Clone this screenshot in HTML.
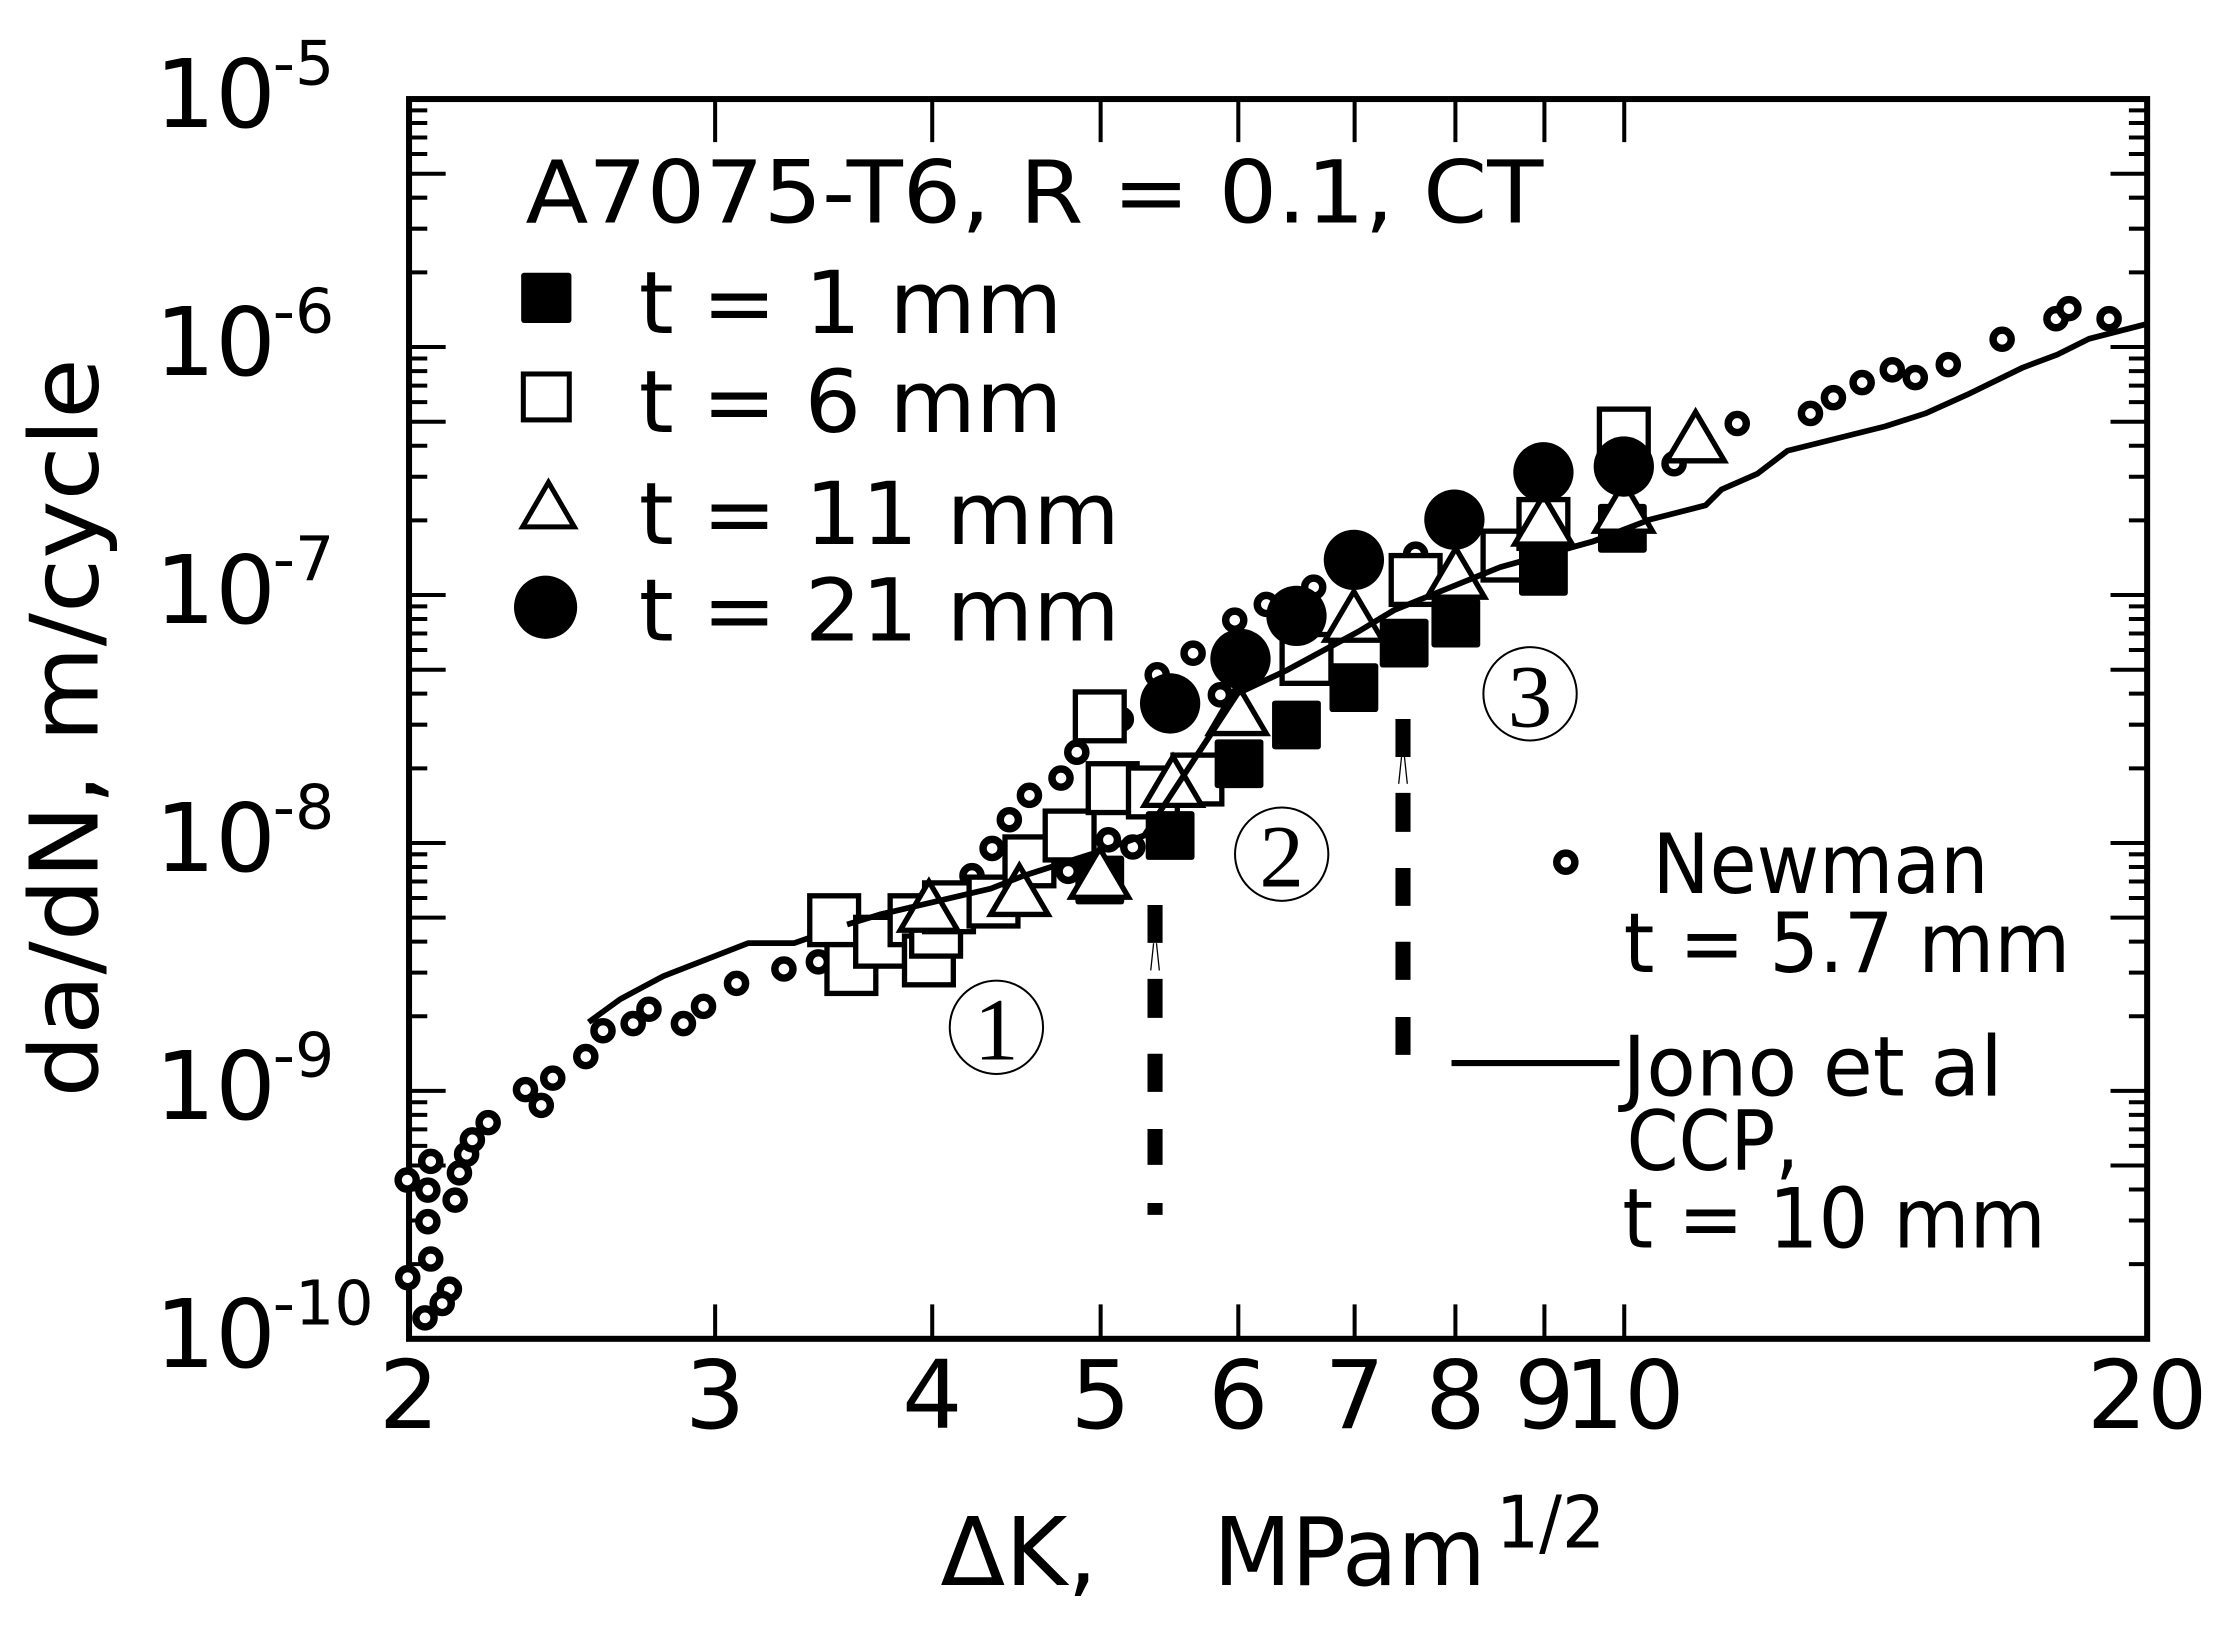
<!DOCTYPE html>
<html><head><meta charset="utf-8"><style>
html,body{margin:0;padding:0;background:#fff;}
svg{display:block;}
text{font-family:"DejaVu Sans","Liberation Sans",sans-serif;fill:#000;}
.serif{font-family:"Liberation Serif","DejaVu Serif",serif;}
</style></head><body>
<svg width="2234" height="1638" viewBox="0 0 1556 1141" preserveAspectRatio="none" xmlns="http://www.w3.org/2000/svg">
<rect width="1556" height="1141" fill="#fff"/>
<!-- axes box -->
<rect x="284.9" y="69" width="1210.6" height="863.6" fill="none" stroke="#000" stroke-width="4.2"/>
<!-- y ticks -->
<g stroke="#000" stroke-width="2.8">
<path id="yt" d="M284.9 880.6h12.7M284.9 850.2h12.7M284.9 828.6h12.7M284.9 811.9h25.5M284.9 798.2h12.7M284.9 786.7h12.7M284.9 776.6h12.7M284.9 767.8h12.7M284.9 759.9h25.5
M284.9 707.9h12.7M284.9 677.5h12.7M284.9 655.9h12.7M284.9 639.2h25.5M284.9 625.5h12.7M284.9 614h12.7M284.9 603.9h12.7M284.9 595.1h12.7M284.9 587.2h25.5
M284.9 535.2h12.7M284.9 504.8h12.7M284.9 483.2h12.7M284.9 466.5h25.5M284.9 452.8h12.7M284.9 441.3h12.7M284.9 431.2h12.7M284.9 422.4h12.7M284.9 414.5h25.5
M284.9 362.5h12.7M284.9 332.1h12.7M284.9 310.5h12.7M284.9 293.8h25.5M284.9 280.1h12.7M284.9 268.6h12.7M284.9 258.5h12.7M284.9 249.7h12.7M284.9 241.7h25.5
M284.9 189.7h12.7M284.9 159.3h12.7M284.9 137.7h12.7M284.9 121h25.5M284.9 107.3h12.7M284.9 95.8h12.7M284.9 85.7h12.7M284.9 76.9h12.7"/>
<path d="M1495.5 880.6h-12.7M1495.5 850.2h-12.7M1495.5 828.6h-12.7M1495.5 811.9h-25.5M1495.5 798.2h-12.7M1495.5 786.7h-12.7M1495.5 776.6h-12.7M1495.5 767.8h-12.7M1495.5 759.9h-25.5
M1495.5 707.9h-12.7M1495.5 677.5h-12.7M1495.5 655.9h-12.7M1495.5 639.2h-25.5M1495.5 625.5h-12.7M1495.5 614h-12.7M1495.5 603.9h-12.7M1495.5 595.1h-12.7M1495.5 587.2h-25.5
M1495.5 535.2h-12.7M1495.5 504.8h-12.7M1495.5 483.2h-12.7M1495.5 466.5h-25.5M1495.5 452.8h-12.7M1495.5 441.3h-12.7M1495.5 431.2h-12.7M1495.5 422.4h-12.7M1495.5 414.5h-25.5
M1495.5 362.5h-12.7M1495.5 332.1h-12.7M1495.5 310.5h-12.7M1495.5 293.8h-25.5M1495.5 280.1h-12.7M1495.5 268.6h-12.7M1495.5 258.5h-12.7M1495.5 249.7h-12.7M1495.5 241.7h-25.5
M1495.5 189.7h-12.7M1495.5 159.3h-12.7M1495.5 137.7h-12.7M1495.5 121h-25.5M1495.5 107.3h-12.7M1495.5 95.8h-12.7M1495.5 85.7h-12.7M1495.5 76.9h-12.7"/>
<!-- x ticks -->
<path d="M498.1 932.6v-24M649.3 932.6v-24M766.6 932.6v-24M862.5 932.6v-24M943.5 932.6v-24M1013.7 932.6v-24M1075.7 932.6v-24M1131.3 932.6v-24
M498.1 69v30M649.3 69v30M766.6 69v30M862.5 69v30M943.5 69v30M1013.7 69v30M1075.7 69v30M1131.3 69v30"/>
</g>
<!-- y tick labels -->
<g font-size="66">
<text x="108" y="88.5">10</text><text x="190" y="59" font-size="43">-5</text>
<text x="108" y="261.2">10</text><text x="190" y="231.7" font-size="43">-6</text>
<text x="108" y="434">10</text><text x="190" y="404.5" font-size="43">-7</text>
<text x="108" y="606.7">10</text><text x="190" y="577.2" font-size="43">-8</text>
<text x="108" y="779.4">10</text><text x="190" y="749.9" font-size="43">-9</text>
<text x="108" y="952.1">10</text><text x="190" y="922.6" font-size="43">-10</text>
</g>
<!-- x tick labels -->
<g font-size="66" text-anchor="middle">
<text x="284.9" y="994.6">2</text><text x="498.1" y="994.6">3</text><text x="649.3" y="994.6">4</text>
<text x="766.6" y="994.6">5</text><text x="862.5" y="994.6">6</text><text x="943.5" y="994.6">7</text>
<text x="1013.7" y="994.6">8</text><text x="1075.7" y="994.6">9</text><text x="1131.3" y="994.6">10</text>
<text x="1495.5" y="994.6">20</text>
</g>
<!-- axis titles -->
<text x="655" y="1104" font-size="66">ΔK,</text>
<text x="845" y="1104" font-size="66" textLength="190" lengthAdjust="spacingAndGlyphs">MPam</text>
<text x="1042" y="1078" font-size="50" textLength="76" lengthAdjust="spacingAndGlyphs">1/2</text>
<text transform="translate(68,507) rotate(-90)" text-anchor="middle" font-size="66" textLength="515" lengthAdjust="spacingAndGlyphs">da/dN, m/cycle</text>

<!-- Jono line -->
<polyline fill="none" stroke="#000" stroke-width="4" stroke-linejoin="round" points="410,712 432,696 462,680 521,657 553,657 576,649 613,637 690,619 713,610 760,595 797,582 862,483 896,467 946,440 971,425 1045,395 1110,377 1149,362 1188,352 1199,341 1224,330 1245,314 1313,297 1341,288 1370,275 1409,256 1433,247 1455,236 1494,226"/>

<!-- Newman circles -->
<g fill="#fff" stroke="#000" stroke-width="5.2">
<circle cx="283.6" cy="822" r="6.3"/><circle cx="300" cy="809" r="6.3"/><circle cx="298" cy="829" r="6.3"/><circle cx="317" cy="836" r="6.3"/><circle cx="320" cy="817" r="6.3"/><circle cx="325" cy="804" r="6.3"/><circle cx="329" cy="794" r="6.3"/><circle cx="340" cy="782" r="6.3"/><circle cx="366" cy="759" r="6.3"/><circle cx="377" cy="770" r="6.3"/><circle cx="385" cy="751" r="6.3"/><circle cx="408" cy="736" r="6.3"/><circle cx="420" cy="718" r="6.3"/><circle cx="441" cy="713" r="6.3"/><circle cx="452" cy="703" r="6.3"/><circle cx="476" cy="713" r="6.3"/><circle cx="490" cy="701" r="6.3"/><circle cx="513" cy="685" r="6.3"/><circle cx="546" cy="675" r="6.3"/><circle cx="570" cy="670" r="6.3"/><circle cx="298" cy="851" r="6.3"/><circle cx="300" cy="877" r="6.3"/><circle cx="284" cy="890" r="6.3"/><circle cx="313" cy="898" r="6.3"/><circle cx="308" cy="908" r="6.3"/><circle cx="296" cy="918" r="6.3"/>
<circle cx="677" cy="610" r="6.3"/><circle cx="691" cy="591" r="6.3"/><circle cx="703" cy="571" r="6.3"/><circle cx="717" cy="554" r="6.3"/><circle cx="739" cy="542" r="6.3"/><circle cx="750" cy="524" r="6.3"/><circle cx="781" cy="501" r="6.3"/><circle cx="744" cy="607" r="6.3"/><circle cx="772" cy="585" r="6.3"/><circle cx="789" cy="590" r="6.3"/><circle cx="806" cy="470" r="6.3"/><circle cx="831" cy="455" r="6.3"/><circle cx="850" cy="484" r="6.3"/><circle cx="860" cy="432" r="6.3"/><circle cx="882" cy="421" r="6.3"/><circle cx="915" cy="409" r="6.3"/><circle cx="986" cy="386" r="6.3"/>
<circle cx="1166" cy="323" r="6.3"/><circle cx="1210" cy="295" r="6.3"/><circle cx="1261" cy="288" r="6.3"/><circle cx="1277" cy="277" r="6.3"/><circle cx="1297" cy="266.5" r="6.3"/><circle cx="1318" cy="257.6" r="6.3"/><circle cx="1334" cy="263" r="6.3"/><circle cx="1357" cy="254" r="6.3"/><circle cx="1394.5" cy="236.3" r="6.3"/><circle cx="1432" cy="222" r="6.3"/><circle cx="1441" cy="215" r="6.3"/><circle cx="1469" cy="222" r="6.3"/>
</g>

<!-- open squares t=6 -->
<g fill="#fff" stroke="#000" stroke-width="3.7">
<rect x="564" y="624" width="34" height="34"/><rect x="576" y="658" width="34" height="34"/><rect x="596" y="639" width="34" height="34"/><rect x="620" y="624" width="34" height="34"/><rect x="630" y="652" width="34" height="34"/><rect x="635" y="632" width="34" height="34"/><rect x="644" y="615" width="34" height="34"/><rect x="675" y="611" width="34" height="34"/><rect x="700" y="583" width="34" height="34"/><rect x="728" y="565" width="34" height="34"/><rect x="758" y="532" width="34" height="34"/><rect x="786" y="535" width="34" height="34"/><rect x="817" y="526" width="34" height="34"/><rect x="749" y="482" width="34" height="34"/><rect x="893" y="442" width="34" height="34"/><rect x="969" y="387" width="34" height="34"/><rect x="1033" y="370" width="34" height="34"/><rect x="1058" y="348" width="34" height="34"/><rect x="1114" y="285" width="34" height="34"/>
</g>
<!-- filled squares t=1 -->
<g fill="#000">
<rect x="749" y="596" width="34" height="34" rx="2"/><rect x="798" y="565" width="34" height="34" rx="2"/><rect x="846" y="515" width="34" height="34" rx="2"/><rect x="886" y="488" width="34" height="34" rx="2"/><rect x="926" y="462" width="34" height="34" rx="2"/><rect x="961" y="431" width="34" height="34" rx="2"/><rect x="997" y="417" width="34" height="34" rx="2"/><rect x="1058" y="381" width="34" height="34" rx="2"/><rect x="1113" y="351" width="34" height="34" rx="2"/>
</g>
<!-- triangles t=11 -->
<g fill="#fff" stroke="#000" stroke-width="3.7" stroke-linejoin="miter">
<path d="M647 614l20 34h-40z"/><path d="M710 603l20 34h-40z"/><path d="M766 591l20 34h-40z"/><path d="M817 527l20 34h-40z"/><path d="M862 477l20 34h-40z"/><path d="M943 412l20 34h-40z"/><path d="M1014 382l20 34h-40z"/><path d="M1075 345l20 34h-40z"/><path d="M1131 336l20 34h-40z"/><path d="M1181 287l20 34h-40z"/>
</g>
<!-- re-draw line segment over triangles like reference -->
<polyline fill="none" stroke="#000" stroke-width="4" points="590,644 613,637 690,619 713,610 760,595 797,582 862,483 896,467 946,440 971,425 1045,395 1110,377 1149,362"/>
<!-- filled circles t=21 -->
<g fill="#000">
<circle cx="815" cy="490" r="21"/><circle cx="864" cy="459" r="21"/><circle cx="903" cy="429" r="21"/><circle cx="943" cy="390" r="21"/><circle cx="1013" cy="362" r="21"/><circle cx="1075" cy="329" r="21"/><circle cx="1131" cy="325" r="21"/>
</g>

<!-- dashed vertical lines -->
<g stroke="#000" stroke-width="10.5">
<path d="M804.5 630.4v26.4M804.5 681.9v27.1M804.5 734v26.6M804.5 786.4v25M804.5 838v8.3"/>
<path d="M977.2 500.8v26.5M977.2 552.3v27.2M977.2 604.6v26.4M977.2 656v26.6M977.2 708.4v26.4"/>
</g>
<g stroke="#000" stroke-width="0.9" fill="none">
<path d="M801.5 676l2-19M807.5 676l-2-19"/>
<path d="M974.2 546l2-19M980.2 546l-2-19"/>
</g>

<!-- circled numbers -->
<g fill="none" stroke="#000" stroke-width="1.4">
<circle cx="694" cy="715.6" r="32.5"/><circle cx="892.7" cy="595" r="32.5"/><circle cx="1065.7" cy="483.3" r="32.5"/>
</g>
<g class="serif" font-size="62" text-anchor="middle">
<text class="serif" x="694" y="738">1</text><text class="serif" x="892.7" y="617.6">2</text><text class="serif" x="1065.7" y="505.9">3</text>
</g>

<!-- legend -->
<text x="366" y="155" font-size="60" textLength="709" lengthAdjust="spacingAndGlyphs">A7075-T6, R = 0.1, CT</text>
<rect x="363" y="190" width="35" height="35" fill="#000" rx="2"/>
<text x="445" y="232" font-size="60" textLength="295" lengthAdjust="spacingAndGlyphs">t = 1 mm</text>
<rect x="364.5" y="260.5" width="32" height="32" fill="#fff" stroke="#000" stroke-width="3.5"/>
<text x="445" y="301" font-size="60" textLength="295" lengthAdjust="spacingAndGlyphs">t = 6 mm</text>
<path d="M382 336l18 31h-36z" fill="#fff" stroke="#000" stroke-width="3.5"/>
<text x="445" y="379" font-size="60" textLength="335" lengthAdjust="spacingAndGlyphs">t = 11 mm</text>
<ellipse cx="380" cy="423" rx="22" ry="22" fill="#000"/>
<text x="445" y="446" font-size="60" textLength="335" lengthAdjust="spacingAndGlyphs">t = 21 mm</text>

<circle cx="1090.6" cy="600.6" r="6.3" fill="#fff" stroke="#000" stroke-width="5.2"/>
<text x="1151" y="622" font-size="58" textLength="234" lengthAdjust="spacingAndGlyphs">Newman</text>
<text x="1131" y="677" font-size="58" textLength="311" lengthAdjust="spacingAndGlyphs">t = 5.7 mm</text>
<path d="M1011 740.5h117" stroke="#000" stroke-width="4.2"/>
<text x="1130" y="763" font-size="58" textLength="265" lengthAdjust="spacingAndGlyphs">Jono et al</text>
<text x="1133" y="815" font-size="58" textLength="120" lengthAdjust="spacingAndGlyphs">CCP,</text>
<text x="1130" y="869" font-size="58" textLength="295" lengthAdjust="spacingAndGlyphs">t = 10 mm</text>
</svg>
</body></html>
